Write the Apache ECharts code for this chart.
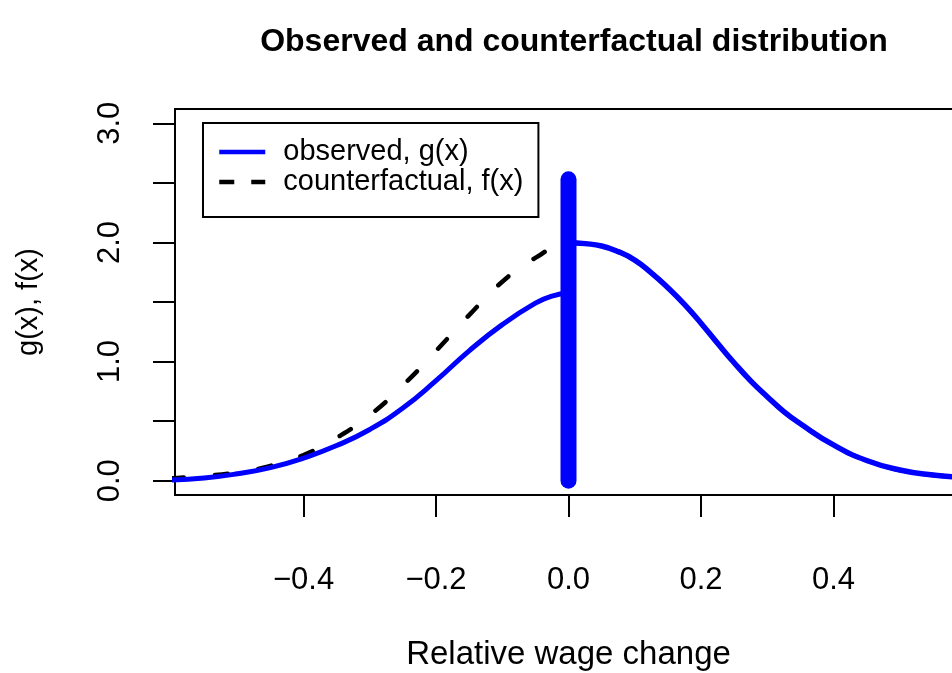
<!DOCTYPE html>
<html lang="en">
<head>
    <meta charset="UTF-8">
    <title>Observed and counterfactual distribution</title>
    <script src="https://cdn.jsdelivr.net/npm/echarts@6/dist/echarts.min.js"></script>
    <style>
        html, body { margin: 0; padding: 0; background: #fff; }
        #main { width: 952px; height: 673px; }
    </style>
</head>
<body>
<div id="main"></div>
<script type="text/javascript">

    // values
    // right of zero the counterfactual lies under the observed curve, so it shares those points
    var cfX = [-0.60, -0.55, -0.50, -0.45, -0.40, -0.35, -0.30, -0.25, -0.20, -0.15, -0.10, -0.05, 0.00,
        0.025, 0.05, 0.075, 0.10, 0.125, 0.15, 0.175, 0.20, 0.225, 0.25, 0.275, 0.30, 0.325, 0.35,
        0.40, 0.45, 0.50, 0.55, 0.60];
    var cfY = [0.02, 0.04, 0.07, 0.125, 0.215, 0.36, 0.55, 0.80, 1.09, 1.39, 1.67, 1.87, 1.995,
        1.99, 1.97, 1.923, 1.852, 1.745, 1.62, 1.48, 1.322, 1.154, 0.99, 0.838, 0.705, 0.58, 0.478,
        0.30, 0.17, 0.09, 0.048, 0.025];

    var obsLeftX = [-0.60, -0.55, -0.50, -0.45, -0.40, -0.35, -0.30, -0.25, -0.20, -0.15, -0.10, -0.05, -0.025, 0.00];
    var obsLeftY = [0.005, 0.022, 0.058, 0.11, 0.19, 0.295, 0.43, 0.61, 0.84, 1.09, 1.31, 1.49, 1.55, 1.575];

    var obsRightX = [0.00, 0.025, 0.05, 0.075, 0.10, 0.125, 0.15, 0.175, 0.20, 0.225, 0.25, 0.275, 0.30, 0.325, 0.35,
        0.40, 0.45, 0.50, 0.55, 0.60];
    var obsRightY = [2.00, 1.99, 1.97, 1.923, 1.852, 1.745, 1.62, 1.48, 1.322, 1.154, 0.99, 0.838, 0.705, 0.58, 0.478,
        0.30, 0.17, 0.09, 0.048, 0.025];

    // point mass at zero
    var spikeX = [0, 0];
    var spikeY = [0, 2.53];

    var xTicks = [-0.4, -0.2, 0, 0.2, 0.4];
    var yTicks = [0, 0.5, 1, 1.5, 2, 2.5, 3];
    var yLabels = [0, 1, 2, 3];

    var FONT = '"Liberation Sans", Arial, Helvetica, sans-serif';

    function pairs(xs, ys) {
        return xs.map(function (x, i) {
            return [x, ys[i]];
        });
    }

    var myChart = echarts.init(document.getElementById('main'));
    var option = {
        animation: false,
        textStyle: {fontFamily: FONT, color: '#000'},
        title: {
            text: 'Observed and counterfactual distribution',
            left: 574,
            top: 26,
            padding: 0,
            textAlign: 'center',
            textStyle: {fontFamily: FONT, fontSize: 32, fontWeight: 'bold', color: '#000'}
        },
        legend: {
            orient: 'vertical',
            left: 203,
            top: 123,
            padding: [14, 15, 20, 14],
            itemWidth: 46,
            itemHeight: 20,
            itemGap: 0,
            borderColor: '#000',
            borderWidth: 2,
            textStyle: {fontFamily: FONT, fontSize: 29, color: '#000', lineHeight: 30, padding: [0, 0, 0, 13]},
            data: [
                {name: 'observed, g(x)', itemStyle: {opacity: 0}, lineStyle: {width: 4.5, cap: 'butt'}},
                {name: 'counterfactual, f(x)', itemStyle: {opacity: 0},
                    lineStyle: {width: 4.5, type: [15, 17], cap: 'butt'}}
            ]
        },
        grid: {
            show: true,
            left: 175,
            right: -10,
            top: 109,
            bottom: 178,
            outerBoundsMode: 'none',
            containLabel: false,
            borderColor: '#000',
            borderWidth: 2
        },
        xAxis: {
            type: 'value',
            min: -0.594,
            max: 0.594,
            name: 'Relative wage change',
            nameLocation: 'middle',
            nameGap: 143,
            nameTextStyle: {fontFamily: FONT, fontSize: 33, color: '#000'},
            axisLine: {show: false, onZero: false},
            splitLine: {show: false},
            axisTick: {show: true, customValues: xTicks, length: 22, lineStyle: {color: '#000', width: 2}},
            axisLabel: {
                customValues: xTicks,
                margin: 70,
                fontFamily: FONT,
                fontSize: 31,
                color: '#000',
                formatter: function (v) {
                    return v.toFixed(1).replace('-', '\u2212');
                }
            }
        },
        yAxis: {
            type: 'value',
            min: -0.12,
            max: 3.12,
            name: 'g(x), f(x)',
            nameLocation: 'middle',
            nameRotate: 90,
            nameGap: 132,
            nameTextStyle: {fontFamily: FONT, fontSize: 29, color: '#000'},
            axisLine: {show: false, onZero: false},
            splitLine: {show: false},
            axisTick: {show: true, customValues: yTicks, length: 22, lineStyle: {color: '#000', width: 2}},
            axisLabel: {
                customValues: yLabels,
                rotate: 90,
                margin: 49,
                fontFamily: FONT,
                fontSize: 31,
                color: '#000',
                formatter: function (v) {
                    return v.toFixed(1);
                }
            }
        },
        series: [
            {
                name: 'counterfactual, f(x)',
                type: 'line',
                data: pairs(cfX, cfY),
                smooth: true,
                symbol: 'none',
                z: 2,
                itemStyle: {color: '#000'},
                lineStyle: {color: '#000', width: 4.5, type: [13, 31], cap: 'round'}
            },
            {
                name: 'observed, g(x)',
                type: 'line',
                data: pairs(obsLeftX, obsLeftY),
                smooth: true,
                symbol: 'none',
                z: 3,
                itemStyle: {color: '#0000ff'},
                lineStyle: {color: '#0000ff', width: 5}
            },
            {
                name: 'observed, g(x)',
                type: 'line',
                data: pairs(obsRightX, obsRightY),
                smooth: true,
                symbol: 'none',
                z: 3,
                itemStyle: {color: '#0000ff'},
                lineStyle: {color: '#0000ff', width: 5.5}
            },
            {
                name: 'mass at zero',
                type: 'line',
                data: pairs(spikeX, spikeY),
                symbol: 'none',
                z: 4,
                itemStyle: {color: '#0000ff'},
                lineStyle: {color: '#0000ff', width: 16, cap: 'round'}
            }
        ]
    };

    myChart.setOption(option);
</script>
</body>
</html>
